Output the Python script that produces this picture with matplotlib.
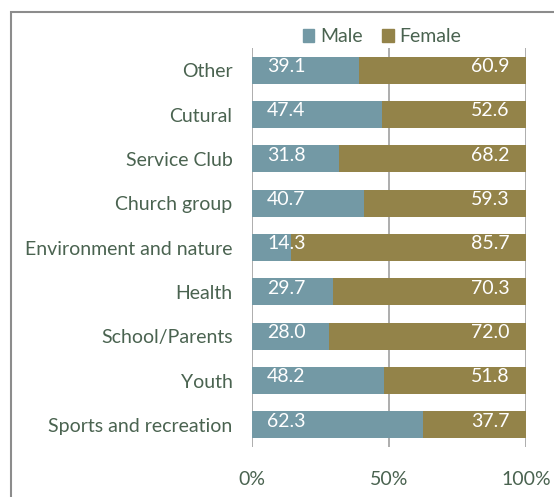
import matplotlib
matplotlib.use("Agg")
import matplotlib.pyplot as plt
from matplotlib.patches import Rectangle
import numpy as np

categories = ["Sports and recreation", "Youth", "School/Parents", "Health",
              "Environment and nature", "Church group", "Service Club", "Cutural", "Other"]
male = [62.3, 48.2, 28.0, 29.7, 14.3, 40.7, 31.8, 47.4, 39.1]
female = [37.7, 51.8, 72.0, 70.3, 85.7, 59.3, 68.2, 52.6, 60.9]
xticks = [0, 50, 100]
xticklabels = ["0%", "50%", "100%"]

male_c = "#7399A5"
female_c = "#938349"
text_c = "#4A6350"
font = "Lato"
fs = 14

W, H = 554, 497
fig = plt.figure(figsize=(W / 100, H / 100), dpi=100)
ax = fig.add_axes([252 / W, 1 - 447 / H, (526 - 252) / W, (447 - 48) / H])

y = np.arange(len(categories))
ax.barh(y, male, height=0.61, color=male_c, zorder=3)
ax.barh(y, female, left=male, height=0.61, color=female_c, zorder=3)

for yi, m, f in zip(y, male, female):
    ax.text(5.5, yi + 0.08, f"{m:.1f}", color="white", va="center", ha="left",
            fontsize=fs, family=font, zorder=4)
    ax.text(94.0, yi + 0.08, f"{f:.1f}", color="white", va="center", ha="right",
            fontsize=fs, family=font, zorder=4)

ax.set_xlim(0, 100)
ax.set_ylim(-0.5, len(categories) - 0.5)
ax.set_yticks(y)
ax.set_yticklabels(categories, fontsize=fs, family=font, color=text_c)
ax.set_xticks(xticks)
ax.set_xticklabels(xticklabels, fontsize=fs, family=font, color=text_c)
ax.tick_params(axis="both", length=0)
ax.tick_params(axis="y", pad=14)
ax.tick_params(axis="x", pad=17)
for s in ax.spines.values():
    s.set_visible(False)
ax.grid(axis="x", color="#A0A0A0", linewidth=1.2, zorder=0)
ax.set_axisbelow(True)

handles = [Rectangle((0, 0), 1, 1, color=male_c), Rectangle((0, 0), 1, 1, color=female_c)]
leg = fig.legend(handles, ["Male", "Female"], loc="center", bbox_to_anchor=(382 / W, 1 - 37 / H),
                 ncol=2, frameon=False, handlelength=0.6, handleheight=0.6, handletextpad=0.3,
                 columnspacing=1.0, prop={"family": font, "size": fs})
for t in leg.get_texts():
    t.set_color(text_c)

border = Rectangle((11 / W, -0.1), 1.2, 1 - 12 / H + 0.1, transform=fig.transFigure,
                   fill=False, edgecolor="#8C8C8C", linewidth=1.5)
fig.patches.append(border)

fig.savefig("out.png", dpi=100)
